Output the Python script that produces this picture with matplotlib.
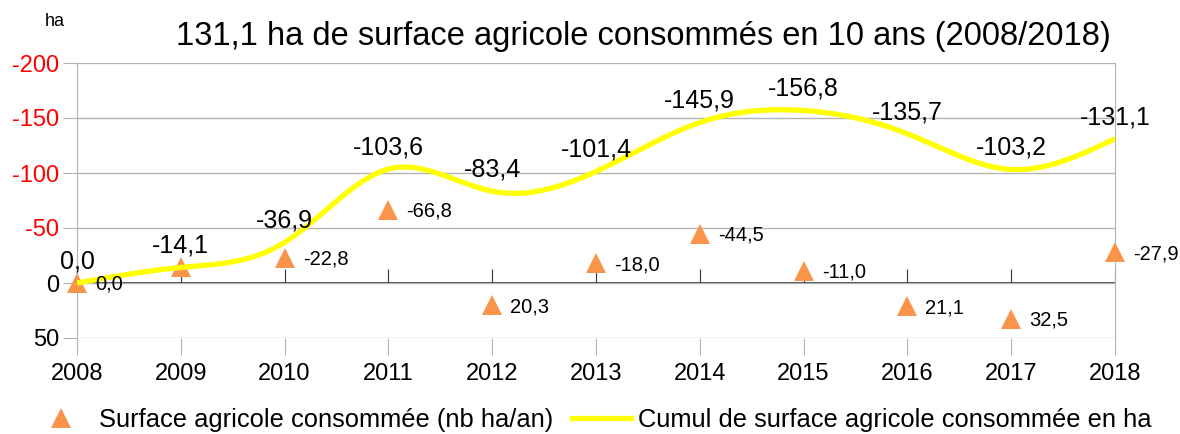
import numpy as np
import matplotlib
matplotlib.use("Agg")
import matplotlib.pyplot as plt
from matplotlib.lines import Line2D

plt.rcParams['font.family'] = ['Liberation Sans', 'DejaVu Sans']

years = [2008, 2009, 2010, 2011, 2012, 2013, 2014, 2015, 2016, 2017, 2018]
cumul = [0.0, -14.1, -36.9, -103.6, -83.4, -101.4, -145.9, -156.8, -135.7, -103.2, -131.1]
annuel = [0.0, -14.1, -22.8, -66.8, 20.3, -18.0, -44.5, -11.0, 21.1, 32.5, -27.9]
annuel_labels = ['0,0', None, '-22,8', '-66,8', '20,3', '-18,0', '-44,5', '-11,0', '21,1', '32,5', '-27,9']
yticks = [-200, -150, -100, -50, 0, 50]


def natural_spline(x, y, n=600):
    x = np.asarray(x, float)
    y = np.asarray(y, float)
    k = len(x)
    h = np.diff(x)
    A = np.zeros((k, k))
    b = np.zeros(k)
    A[0, 0] = A[-1, -1] = 1
    for i in range(1, k - 1):
        A[i, i - 1] = h[i - 1]
        A[i, i] = 2 * (h[i - 1] + h[i])
        A[i, i + 1] = h[i]
        b[i] = 6 * ((y[i + 1] - y[i]) / h[i] - (y[i] - y[i - 1]) / h[i - 1])
    m = np.linalg.solve(A, b)
    xs = np.linspace(x[0], x[-1], n)
    idx = np.clip(np.searchsorted(x, xs) - 1, 0, k - 2)
    t = xs - x[idx]
    hi = h[idx]
    a = (m[idx + 1] - m[idx]) / (6 * hi)
    c = m[idx] / 2
    d = (y[idx + 1] - y[idx]) / hi - hi * (2 * m[idx] + m[idx + 1]) / 6
    ys = y[idx] + d * t + c * t ** 2 + a * t ** 3
    return xs, ys


fig = plt.figure(figsize=(11.8, 4.34), dpi=100)
ax = fig.add_axes([77 / 1180, 1 - 338 / 434, (1115 - 77) / 1180, (338 - 63) / 434])

ax.set_xlim(years[0], years[-1])
ax.set_ylim(50, -200)
ax.set_yticks(yticks)
ax.set_yticklabels([str(v) for v in yticks])
for lab, v in zip(ax.get_yticklabels(), yticks):
    lab.set_color('#ff0000' if v < 0 else 'black')
ax.set_xticks(years)
ax.set_xticklabels([str(y) for y in years])
ax.tick_params(axis='y', length=10, color='#b3b3b3', labelsize=17, pad=3)
ax.tick_params(axis='x', length=12, color='#b3b3b3', labelsize=17, pad=6)
ax.grid(axis='y', color='#b3b3b3', lw=1)
ax.set_axisbelow(True)
for s in ['top', 'bottom']:
    ax.spines[s].set_visible(False)
for s in ['left', 'right']:
    ax.spines[s].set_color('#b3b3b3')

# zero axis line with ticks
frac0 = (50 - 0) / (50 - (-200))
sec = ax.secondary_xaxis(frac0)
sec.set_xticks(years)
sec.tick_params(direction='in', length=10, color='#333333', labelbottom=False)
sec.spines['bottom'].set_color('#333333')
sec.spines['bottom'].set_linewidth(1.3)

xs, ys = natural_spline(years, cumul)
ax.plot(years, annuel, linestyle='none', marker='^', ms=14, color='#f9944a',
        markeredgewidth=0, zorder=3, clip_on=False)
ax.plot(xs, ys, color='#ffff00', lw=3.8, zorder=4, solid_capstyle='butt')

for x, v in zip(years, cumul):
    ax.annotate(f"{v:.1f}".replace('.', ','), (x, v), xytext=(0, 7), textcoords='offset points',
                ha='center', va='bottom', fontsize=18, zorder=5, annotation_clip=False)
for x, v, t in zip(years, annuel, annuel_labels):
    if t is None:
        continue
    ax.annotate(t, (x, v), xytext=(13, -1), textcoords='offset points',
                ha='left', va='center', fontsize=14.5, zorder=5, annotation_clip=False)

fig.text(643 / 1180, 1 - 37 / 434, "131,1 ha de surface agricole consommés en 10 ans (2008/2018)",
         ha='center', va='center', fontsize=23.5)
fig.text(55 / 1180, 1 - 22 / 434, "ha", ha='center', va='center', fontsize=13)

handles = [Line2D([], [], linestyle='none', marker='^', ms=14, color='#f9944a', markeredgewidth=0),
           Line2D([], [], color='#ffff00', lw=3.8)]
fig.legend(handles, ["Surface agricole consommée (nb ha/an)", "Cumul de surface agricole consommée en ha"],
           loc='center', bbox_to_anchor=(592 / 1180, 1 - 420 / 434), ncol=2, frameon=False,
           fontsize=18.4, handlelength=2.3, handletextpad=0.3, columnspacing=0.75, borderpad=0)

fig.savefig("out.png", dpi=100)
